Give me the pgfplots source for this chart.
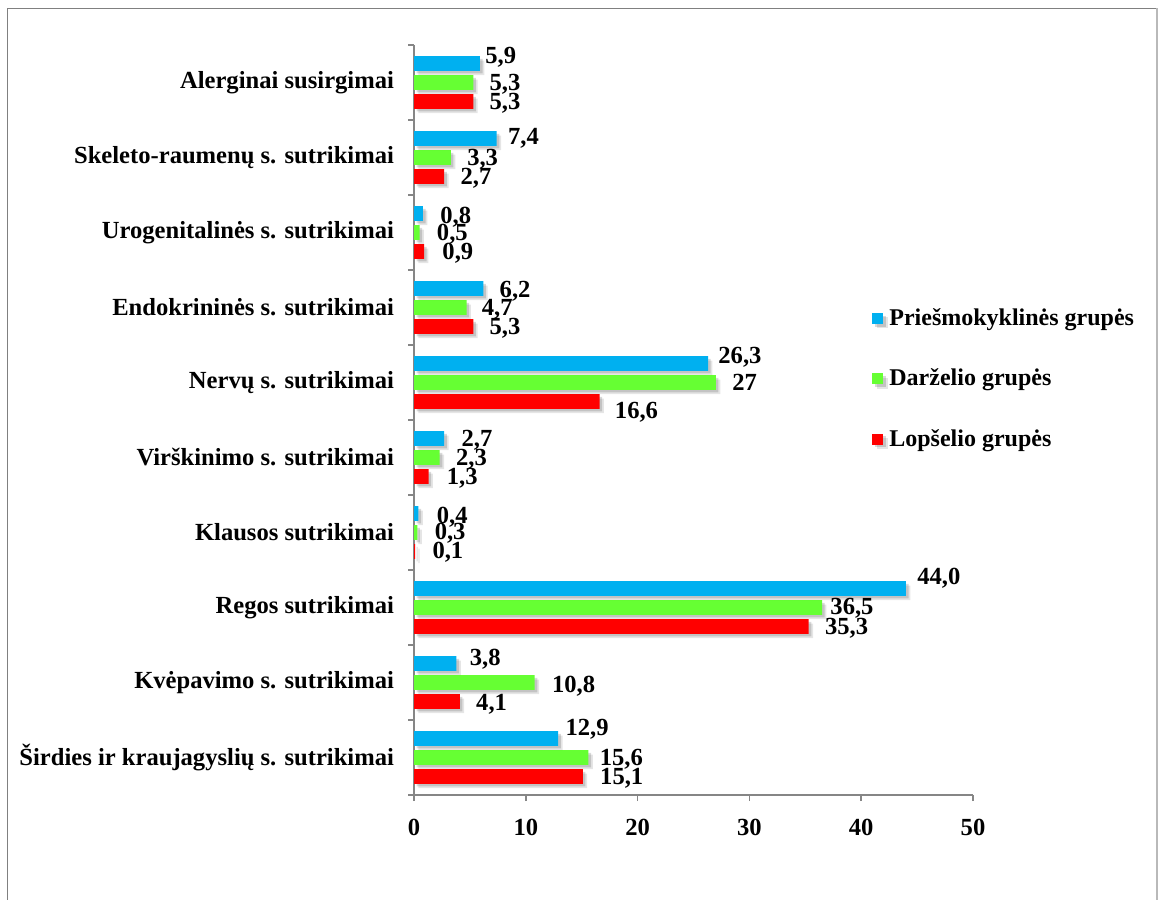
\documentclass[border=0pt]{standalone}
\usepackage{pgfplots}
\pgfplotsset{compat=1.18}
\usepackage{pgfplotstable}
\usepackage{fontspec}
\setmainfont{Liberation Serif}
\definecolor{cBlue}{RGB}{0,176,240}
\definecolor{cGreen}{RGB}{102,255,51}
\definecolor{cRed}{RGB}{255,0,0}
\definecolor{axgray}{RGB}{134,134,134}
\definecolor{frgray}{RGB}{128,128,128}
\definecolor{frlight}{RGB}{185,185,185}

% Priešmokyklinės grupės
\pgfplotstableread{
y val lab dx dy
0 12.9 12,9 7 11
1 3.8 3,8 13 6
2 44.0 44,0 11 12
3 0.4 0,4 18 -2
4 2.7 2,7 17 0
5 26.3 26,3 10 8
6 6.2 6,2 16 -1
7 0.8 0,8 17 -2
8 7.4 7,4 11 2
9 5.9 5,9 5 8
}\tabBlue
% Darželio grupės
\pgfplotstableread{
y val lab dx dy
0 15.6 15,6 11 0
1 10.8 10,8 17 -2
2 36.5 36,5 8 1
3 0.3 0,3 17 1
4 2.3 2,3 16 0
5 27 27 16 0
6 4.7 4,7 15 0
7 0.5 0,5 17 0
8 3.3 3,3 16 0
9 5.3 5,3 16 0
}\tabGreen
% Lopšelio grupės
\pgfplotstableread{
y val lab dx dy
0 15.1 15,1 17 0
1 4.1 4,1 16 -1
2 35.3 35,3 16 0
3 0.1 0,1 17 1
4 1.3 1,3 18 0
5 16.6 16,6 15 -9
6 5.3 5,3 16 0
7 0.9 0,9 18 0
8 2.7 2,7 16 0
9 5.3 5,3 16 0
}\tabRed

\newcommand{\lbfont}{\bfseries\fontsize{12.3}{14}\selectfont}
\newcommand{\lgfont}{\bfseries\fontsize{12}{14}\selectfont}
\tikzset{barshadow/.style={
  preaction={fill=black, opacity=0.10, transform canvas={xshift=2.2pt, yshift=-2.2pt}},
  preaction={fill=black, opacity=0.15, transform canvas={xshift=1.3pt, yshift=-1.3pt}}}}

\begin{document}
\begin{tikzpicture}
\useasboundingbox (0,0) rectangle (580pt,449.5pt);
\draw[frgray, line width=0.6pt] (3.75pt,-2pt) -- (3.75pt,445.4pt) -- (578.5pt,445.4pt);
\draw[frlight, line width=1pt] (578.5pt,445.4pt) -- (578.5pt,-2pt);
\begin{axis}[
  at={(207pt,52pt)}, anchor=south west,
  scale only axis, width=279.5pt, height=375pt,
  xbar=2.2pt, bar width=7.3pt,
  xmin=0, xmax=50, ymin=-0.5, ymax=9.5,
  axis x line*=bottom, axis y line*=left,
  axis line style={draw=axgray, line width=0.8pt},
  tick align=outside,
  xtick={0,10,...,50},
  ytick={0,...,9},
  yticklabels={Širdies ir kraujagyslių s. sutrikimai, Kvėpavimo s. sutrikimai, Regos sutrikimai, Klausos sutrikimai, Virškinimo s. sutrikimai, Nervų s. sutrikimai, Endokrininės s. sutrikimai, Urogenitalinės s. sutrikimai, Skeleto-raumenų s. sutrikimai, Alerginai susirgimai},
  minor ytick={-0.5,0.5,...,9.5},
  major y tick style={draw=none},
  minor y tick style={draw=axgray, line width=0.8pt},
  major x tick style={draw=axgray, line width=0.8pt},
  minor tick length=3pt,
  major tick length=3pt,
  tick label style={font=\lbfont},
  y tick label style={xshift=-3.5pt},
  x tick label style={yshift=-5.5pt},
  /pgf/number format/assume math mode=true,
  clip=false,
  nodes near coords,
  point meta=explicit symbolic,
  visualization depends on={\thisrow{dx} \as \dxv},
  visualization depends on={\thisrow{dy} \as \dyv},
  every node near coord/.append style={font=\lbfont, anchor=west, inner sep=0pt, text height=8.3pt, text depth=0pt, xshift=\dxv*0.5pt, yshift=\dyv*0.5pt, text=black},
  legend image code/.code={\fill[#1] (0pt,-2.2pt) rectangle (5.5pt,3.3pt);},
  legend style={draw=none, fill=none, inner sep=0pt, at={(0.8193,0.6493)}, anchor=north west, row sep=19.1pt, font=\lgfont, nodes={inner sep=0pt, text height=8.5pt, text depth=2.6pt}, /tikz/every odd column/.append style={column sep=3pt}},
  legend cell align=left,
  reverse legend,
]
\addplot[fill=cRed, draw=none, barshadow] table[x=val, y=y, meta=lab] {\tabRed};
\addlegendentry{Lopšelio grupės}
\addplot[fill=cGreen, draw=none, barshadow] table[x=val, y=y, meta=lab] {\tabGreen};
\addlegendentry{Darželio grupės}
\addplot[fill=cBlue, draw=none, barshadow] table[x=val, y=y, meta=lab] {\tabBlue};
\addlegendentry{Priešmokyklinės grupės}
\end{axis}
\end{tikzpicture}
\end{document}
